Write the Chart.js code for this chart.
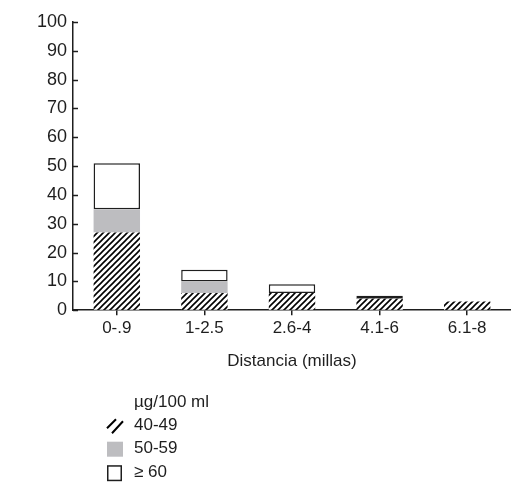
<!DOCTYPE html>
<html>
<head>
<meta charset="utf-8">
<script src="https://cdn.jsdelivr.net/npm/chart.js@4"></script>
<style>
  html, body { margin: 0; padding: 0; background: #fff; }
  #wrap { width: 511px; height: 483px; position: relative; }
</style>
</head>
<body>
<div id="wrap"><canvas id="c" width="511" height="483"></canvas></div>
<script>
// Distance bands and the share of children per blood-lead band
const categories = ['0-.9', '1-2.5', '2.6-4', '4.1-6', '6.1-8'];
const lead40to49 = [27, 6, 6, 4, 3];
const lead50to59 = [8, 4, 0, 0, 0];
const lead60plus = [16, 4, 3, 1, null];
const seriesLabels = ['40-49', '50-59', '\u2265 60'];
const legendTitle = '\u00b5g/100 ml';
const xTitle = 'Distancia (millas)';
const yTickValues = [0, 10, 20, 30, 40, 50, 60, 70, 80, 90, 100];

const INK = '#1e1e1e';
const FONT = { family: '"Liberation Sans", Arial, sans-serif', size: 17 };
const NUM_FONT = { family: '"Liberation Sans Narrow", "Liberation Sans", Arial, sans-serif', size: 18 };

// Diagonal "/" hatch fill
function makeHatch() {
  const t = document.createElement('canvas');
  t.width = 6; t.height = 6;
  const g = t.getContext('2d');
  g.fillStyle = '#fff';
  g.fillRect(0, 0, 6, 6);
  g.strokeStyle = '#000';
  g.lineWidth = 1.6;
  g.beginPath();
  g.moveTo(-1, 7); g.lineTo(7, -1);
  g.moveTo(-4, 4); g.lineTo(4, -4);
  g.moveTo(2, 10); g.lineTo(10, 2);
  g.stroke();
  return g.createPattern(t, 'repeat');
}
const ctx = document.getElementById('c').getContext('2d');
const hatch = makeHatch();

// Short tick marks on the inner side of the value axis
const innerTicks = {
  id: 'innerTicks',
  afterDraw(chart) {
    const y = chart.scales.y;
    const x0 = chart.chartArea.left;
    const c = chart.ctx;
    c.save();
    c.strokeStyle = INK;
    c.lineWidth = 1.5;
    yTickValues.forEach(v => {
      const py = Math.round(y.getPixelForValue(v)) + 0.5;
      c.beginPath();
      c.moveTo(x0, py);
      c.lineTo(x0 + 5, py);
      c.stroke();
    });
    c.restore();
  }
};

// Vertical legend under the axis title
const stackedLegend = {
  id: 'stackedLegend',
  afterDraw(chart) {
    const c = chart.ctx;
    const left = 107, textX = 134;
    const top = chart.chartArea.bottom + 92;
    c.save();
    c.font = FONT.size + 'px ' + FONT.family;
    c.fillStyle = INK;
    c.textBaseline = 'middle';
    c.textAlign = 'left';
    c.fillText(legendTitle, textX, top);
    chart.data.datasets.forEach((ds, i) => {
      const cy = top + 23 + i * 23.5;
      const bx = left, by = cy - 7, s = 15;
      if (i === 0) {
        c.strokeStyle = '#000';
        c.lineWidth = 2;
        c.beginPath();
        c.moveTo(bx, by + s - 5); c.lineTo(bx + 9, by + 1);
        c.moveTo(bx + 5, by + s); c.lineTo(bx + 16, by + 3);
        c.stroke();
      } else if (i === 1) {
        c.fillStyle = ds.backgroundColor;
        c.fillRect(bx, by, s + 1, s);
      } else {
        c.fillStyle = '#fff';
        c.fillRect(bx, by, s, s);
        c.strokeStyle = INK;
        c.lineWidth = 1.5;
        c.strokeRect(bx + 0.75, by + 0.75, s - 1.5, s - 0.5);
      }
      c.fillStyle = INK;
      c.fillText(ds.label, textX, cy);
    });
    c.restore();
  }
};

new Chart(ctx, {
  type: 'bar',
  data: {
    labels: categories,
    datasets: [
      { label: seriesLabels[0], data: lead40to49, backgroundColor: hatch, borderWidth: 0 },
      { label: seriesLabels[1], data: lead50to59, backgroundColor: '#bdbdc0', borderWidth: 0 },
      { label: seriesLabels[2], data: lead60plus, backgroundColor: '#ffffff',
        borderColor: INK, borderWidth: 1.5, borderSkipped: false }
    ]
  },
  options: {
    responsive: false,
    animation: false,
    devicePixelRatio: 1,
    datasets: { bar: { categoryPercentage: 1, barPercentage: 0.53 } },
    layout: { padding: { top: 22, right: 0, bottom: 111, left: 0 } },
    plugins: { legend: { display: false }, tooltip: { enabled: false } },
    scales: {
      x: {
        stacked: true,
        grid: { display: true, drawOnChartArea: false, drawTicks: true, tickLength: 5,
                offset: false, color: INK, lineWidth: 1.5 },
        border: { display: true, color: INK, width: 1.5 },
        ticks: { color: INK, font: FONT, padding: 3, maxRotation: 0 },
        title: { display: true, text: xTitle, color: INK, font: FONT, padding: { top: 10, bottom: 0 } }
      },
      y: {
        stacked: true,
        min: 0, max: 100,
        afterFit(scale) { scale.width = 73; },
        afterBuildTicks(scale) { scale.ticks = yTickValues.map(v => ({ value: v })); },
        grid: { display: true, drawOnChartArea: false, drawTicks: false },
        border: { display: true, color: INK, width: 1.5 },
        ticks: { color: INK, font: NUM_FONT, padding: 6 }
      }
    }
  },
  plugins: [innerTicks, stackedLegend]
});
</script>
</body>
</html>
